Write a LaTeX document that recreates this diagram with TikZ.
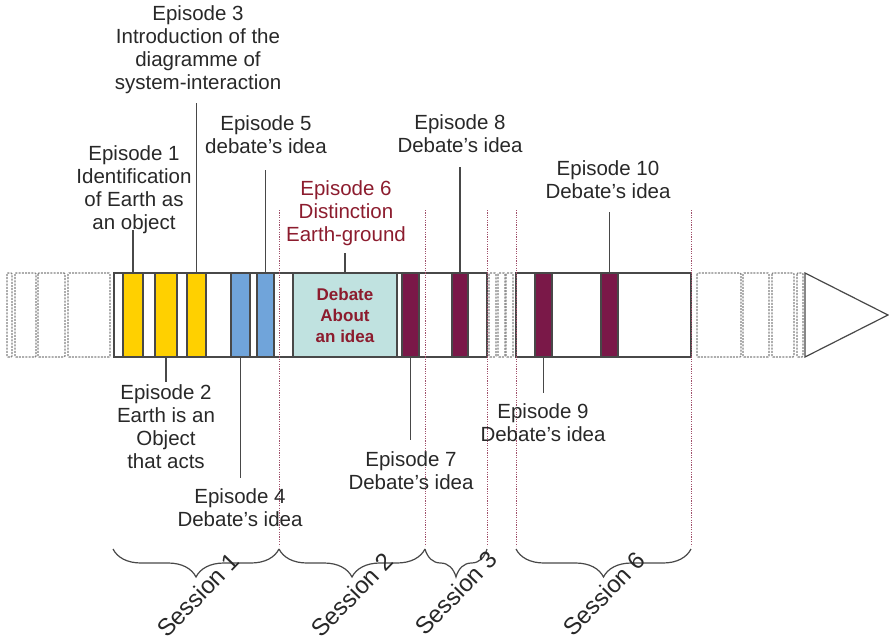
\documentclass[tikz,border=0pt]{standalone}
\usepackage{fontspec}
\setmainfont{Liberation Sans}
\usetikzlibrary{decorations.pathreplacing}
\definecolor{yel}{RGB}{255,208,0}
\definecolor{blu}{RGB}{112,164,218}
\definecolor{pur}{RGB}{122,24,72}
\definecolor{cya}{RGB}{192,226,224}
\definecolor{redtxt}{RGB}{140,28,46}
\definecolor{txt}{RGB}{40,40,40}
\definecolor{edge}{RGB}{72,72,72}
\definecolor{dashg}{RGB}{130,130,130}
\definecolor{sessline}{RGB}{160,80,106}
\begin{document}
\begin{tikzpicture}[x=1pt,y=-1pt,
  lbl/.style={font=\fontsize{20.5}{23}\selectfont, align=center, text=txt, inner sep=0pt},
  epbar/.style={draw=edge, line width=1.2pt, minimum width=#1, minimum height=84pt, inner sep=0pt},
  ghost/.style={draw=dashg, line width=1.3pt, dash pattern=on 2pt off 1.2pt, rounded corners=1pt},
  solidbar/.style={draw=edge, line width=1.2pt, fill=white},
  conn/.style={draw=edge, line width=1.2pt},
  sess/.style={draw=sessline, line width=1pt, dash pattern=on 1.2pt off 1.2pt},
  bracestyle/.style={draw=edge, line width=1.2pt, decorate, decoration={brace, amplitude=28pt, mirror}},
  sesslbl/.style={font=\fontsize{24}{27}\selectfont, text=txt, rotate=46, inner sep=0pt}
]
\useasboundingbox (0,0) rectangle (889,642);

% ghost boxes left
\draw[ghost] (7,273) rectangle (12,357);
\draw[ghost] (15,273) rectangle (36,357);
\draw[ghost] (38,273) rectangle (65,357);
\draw[ghost] (68,273) rectangle (110,357);
% ghost boxes middle
\draw[ghost] (489,273) rectangle (496,357);
\draw[ghost] (498,273) rectangle (505,357);
\draw[ghost] (506,273) rectangle (513,357);
% ghost boxes right
\draw[ghost] (697,273) rectangle (741,357);
\draw[ghost] (743,273) rectangle (769,357);
\draw[ghost] (772,273) rectangle (794,357);
\draw[ghost] (797,273) rectangle (803,357);

% solid segments
\draw[solidbar] (114,273) rectangle (487,357);
\draw[solidbar] (516,273) rectangle (691,357);
\draw[solidbar] (805,273) -- (888,315) -- (805,357) -- cycle;

% episode bars
\node[epbar=20pt, fill=yel] (b1) at (133,315) {};
\node[epbar=22pt, fill=yel] (b2) at (166,315) {};
\node[epbar=19pt, fill=yel] (b3) at (196.5,315) {};
\node[epbar=19pt, fill=blu] (b4) at (240.5,315) {};
\node[epbar=17pt, fill=blu] (b5) at (265.5,315) {};
\node[epbar=104pt, fill=cya, font=\bfseries\fontsize{17}{21}\selectfont, text=redtxt, align=center] (b6) at (345,315) {Debate\\About\\an idea};
\node[epbar=17pt, fill=pur] (b7) at (410.5,315) {};
\node[epbar=16pt, fill=pur] (b8) at (460,315) {};
\node[epbar=17pt, fill=pur] (b9) at (543.5,315) {};
\node[epbar=17pt, fill=pur] (b10) at (609.5,315) {};

% session boundary lines
\draw[sess] (279,210) -- (279,546);
\draw[sess] (425,210) -- (425,546);
\draw[sess] (487,210) -- (487,546);
\draw[sess] (516,210) -- (516,546);
\draw[sess] (691,210) -- (691,546);

% episode labels
\node[lbl] (e3) at (198,50) {Episode 3\\Introduction of the\\diagramme of\\system-interaction};
\node[lbl] (e5) at (266,135) {Episode 5\\debate's idea};
\node[lbl] (e1) at (134,190) {Episode 1\\Identification\\of Earth as\\an object};
\node[lbl, text=redtxt] (e6) at (346,213) {Episode 6\\Distinction\\Earth-ground};
\node[lbl] (e8) at (460,134) {Episode 8\\Debate's idea};
\node[lbl] (e10) at (608,180) {Episode 10\\Debate's idea};
\node[lbl] (e2) at (166,427) {Episode 2\\Earth is an\\Object\\that acts};
\node[lbl] (e4) at (240,508) {Episode 4\\Debate's idea};
\node[lbl] (e7) at (411,471) {Episode 7\\Debate's idea};
\node[lbl] (e9) at (543,423) {Episode 9\\Debate's idea};

% connector free ends
\coordinate (t1) at (133,230);
\coordinate (t3) at (196.5,103);
\coordinate (t5) at (265.5,170);
\coordinate (t6) at (345,253);
\coordinate (t8) at (460,167);
\coordinate (t10) at (609.5,212);
\coordinate (t2) at (166,382);
\coordinate (t4) at (240.5,478);
\coordinate (t7) at (410.5,440);
\coordinate (t9) at (543.5,393);

\draw[conn] (t1) -- (b1.north);
\draw[conn] (t3) -- (b3.north);
\draw[conn] (t5) -- (b5.north);
\draw[conn] (t6) -- (b6.north);
\draw[conn] (t8) -- (b8.north);
\draw[conn] (t10) -- (b10.north);
\draw[conn] (b2.south) -- (t2);
\draw[conn] (b4.south) -- (t4);
\draw[conn] (b7.south) -- (t7);
\draw[conn] (b9.south) -- (t9);

% braces
\coordinate (s1a) at (113,549);
\coordinate (s1b) at (279,549);
\coordinate (s2b) at (425,549);
\coordinate (s3b) at (487,549);
\coordinate (s6a) at (516,549);
\coordinate (s6b) at (691,549);
\draw[bracestyle] (s1a) -- (s1b);
\draw[bracestyle] (s1b) -- (s2b);
\draw[bracestyle] (s2b) -- (s3b);
\draw[bracestyle] (s6a) -- (s6b);

\node[sesslbl] (l1) at (198,595) {Session 1};
\node[sesslbl] (l2) at (352,595) {Session 2};
\node[sesslbl] (l3) at (456,593) {Session 3};
\node[sesslbl] (l6) at (604,594) {Session 6};
\end{tikzpicture}
\end{document}
